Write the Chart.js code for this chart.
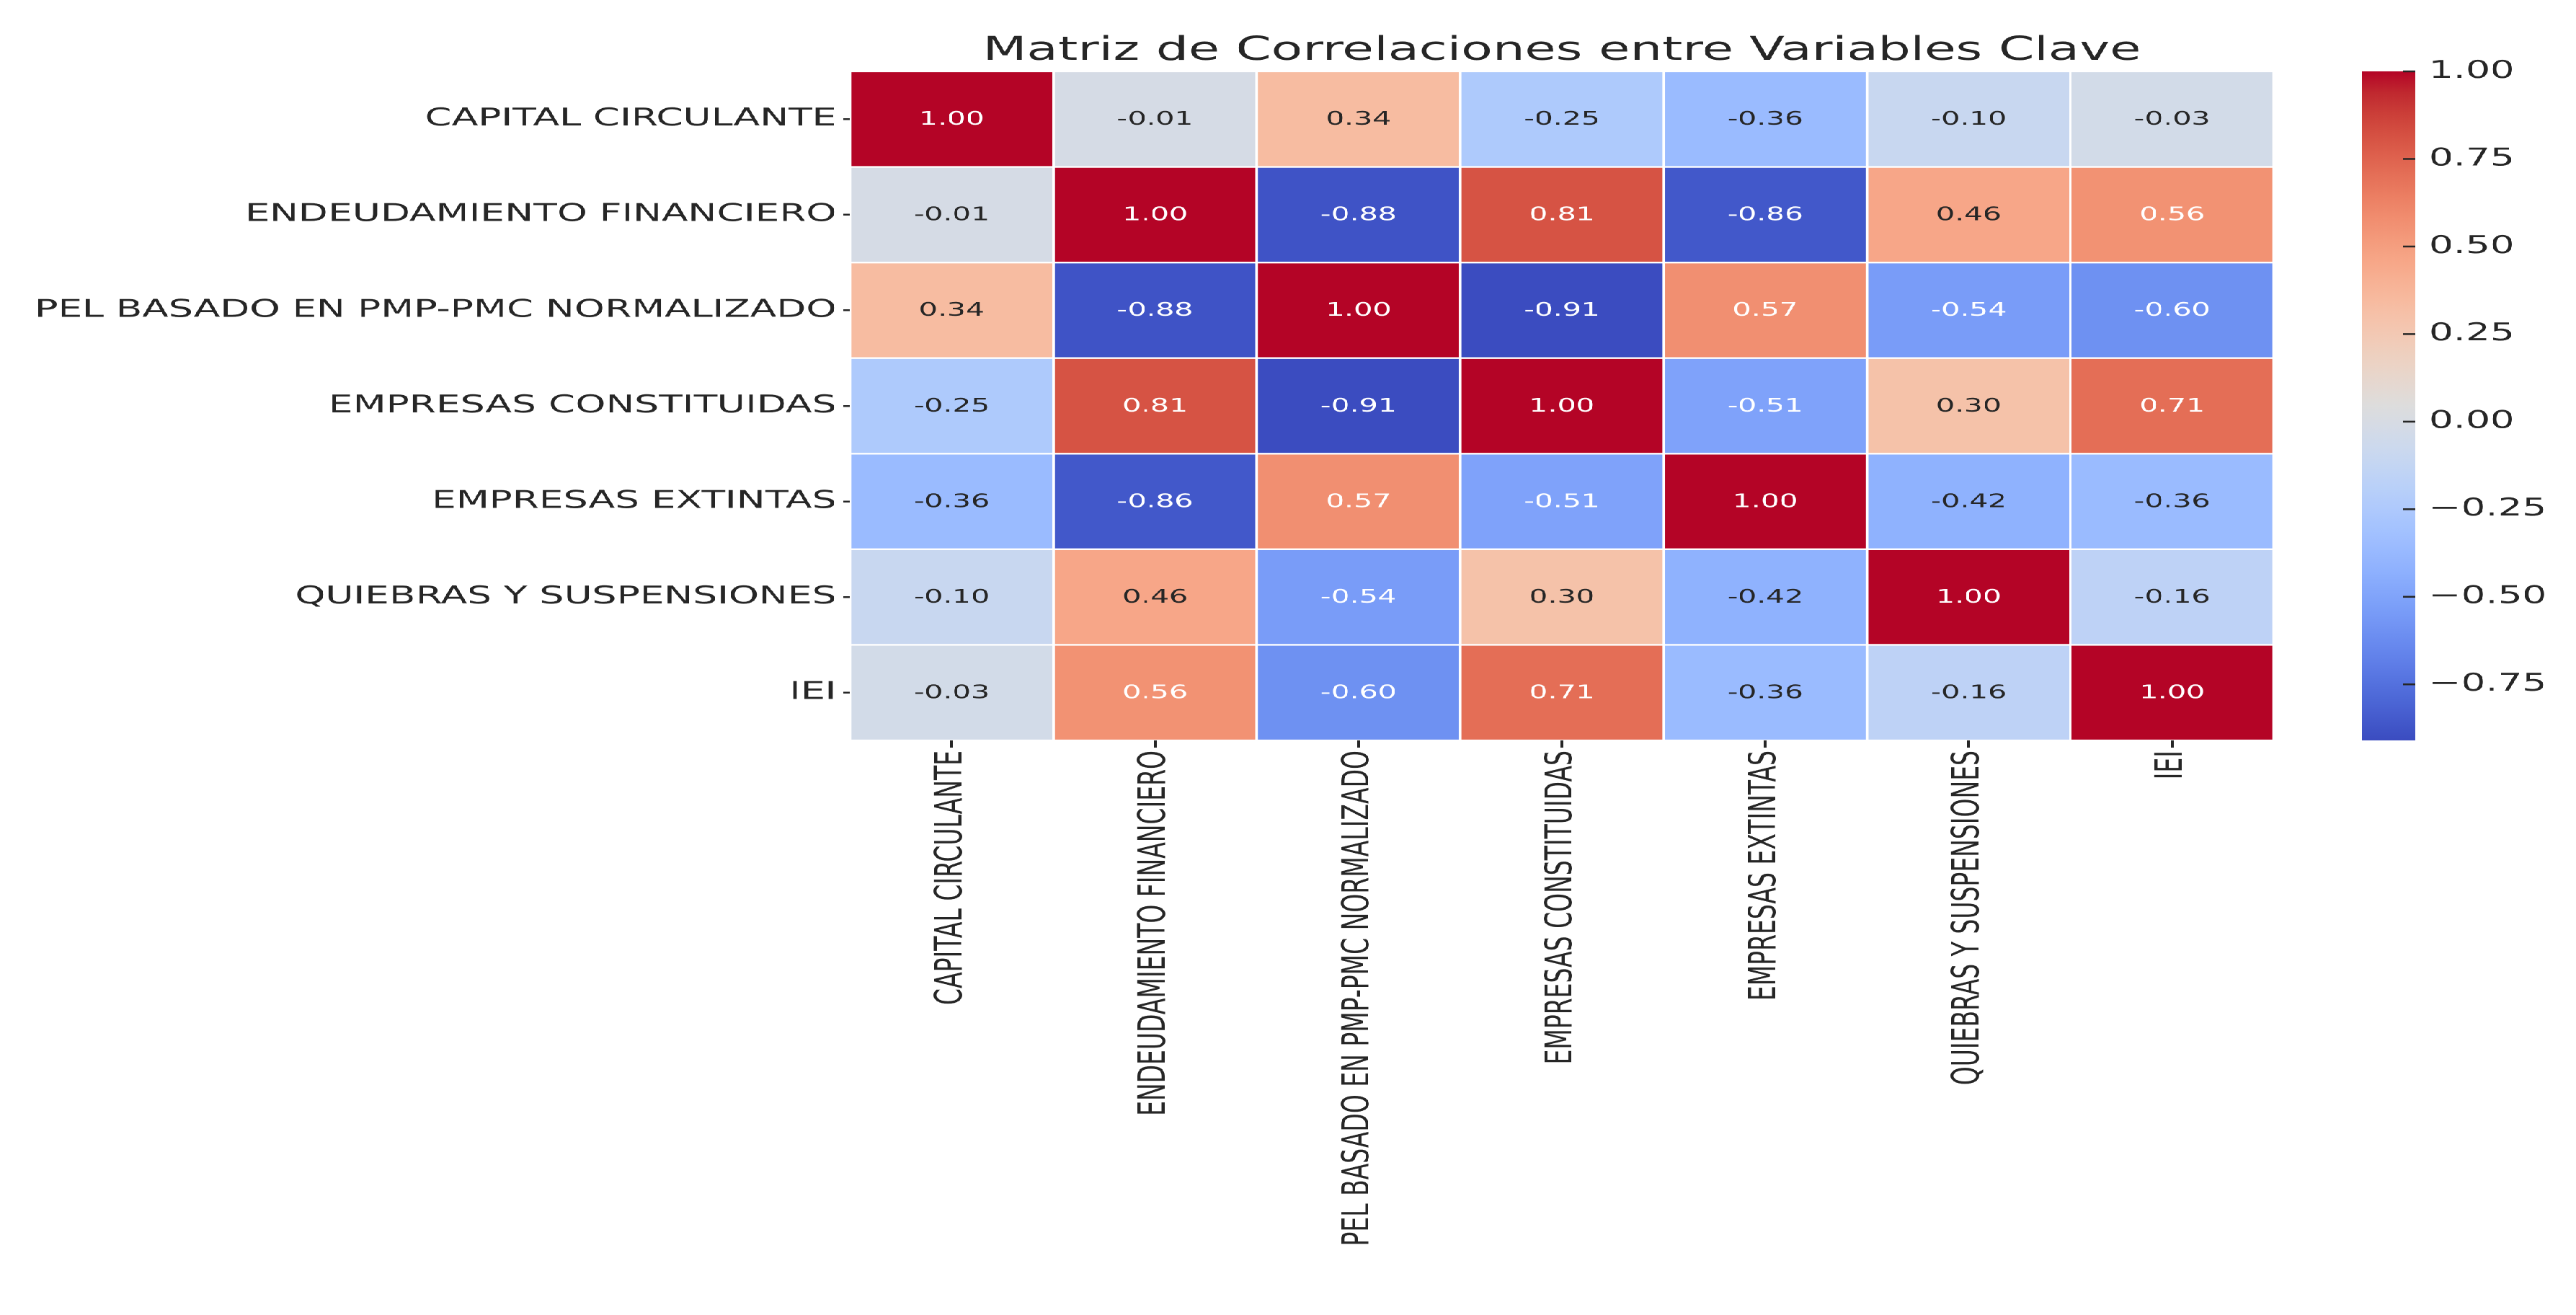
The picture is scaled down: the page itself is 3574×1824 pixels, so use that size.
<!DOCTYPE html>
<html>
<head>
<meta charset="utf-8">
<title>Matriz de Correlaciones</title>
<script src="https://cdn.jsdelivr.net/npm/chart.js@4.4.1/dist/chart.umd.min.js"></script>
<style>
html, body { margin: 0; padding: 0; background: #fff; overflow: hidden; }
/* the reference figure is stretched sideways, so draw narrow and scale x */
#stage { position: absolute; left: 0; top: 0; width: 2276px; height: 1824px; transform: scaleX(1.5703); transform-origin: 0 0; }
#heatBox { position: absolute; left: 0; top: 0; width: 2276px; height: 1824px; }
#barBox { position: absolute; left: 2087px; top: 0; width: 189px; height: 1824px; }
</style>
</head>
<body>
<div id="stage">
    <div id="heatBox"><canvas id="heatChart"></canvas></div>
    <div id="barBox"><canvas id="cbarChart"></canvas></div>
</div>
<script>
const chartTitle = 'Matriz de Correlaciones entre Variables Clave';
const variables = [
    'CAPITAL CIRCULANTE',
    'ENDEUDAMIENTO FINANCIERO',
    'PEL BASADO EN PMP-PMC NORMALIZADO',
    'EMPRESAS CONSTITUIDAS',
    'EMPRESAS EXTINTAS',
    'QUIEBRAS Y SUSPENSIONES',
    'IEI'
];
const capitalCirculante = [1.00, -0.01, 0.34, -0.25, -0.36, -0.10, -0.03];
const endeudamiento = [-0.01, 1.00, -0.88, 0.81, -0.86, 0.46, 0.56];
const pelBasado = [0.34, -0.88, 1.00, -0.91, 0.57, -0.54, -0.60];
const empresasConstituidas = [-0.25, 0.81, -0.91, 1.00, -0.51, 0.30, 0.71];
const empresasExtintas = [-0.36, -0.86, 0.57, -0.51, 1.00, -0.42, -0.36];
const quiebras = [-0.10, 0.46, -0.54, 0.30, -0.42, 1.00, -0.16];
const iei = [-0.03, 0.56, -0.60, 0.71, -0.36, -0.16, 1.00];
const corrRows = [capitalCirculante, endeudamiento, pelBasado, empresasConstituidas, empresasExtintas, quiebras, iei];

const cbarMin = -0.91;
const cbarMax = 1.00;
const cbarTicks = [-0.75, -0.50, -0.25, 0.00, 0.25, 0.50, 0.75, 1.00];

const FONT = '"DejaVu Sans", sans-serif';
const DARK = '#262626';

// matplotlib coolwarm, 33 samples
const cwRed = [0.2298, 0.2662, 0.3039, 0.3428, 0.3830, 0.4244, 0.4667, 0.5096, 0.5530, 0.5963, 0.6392, 0.6813, 0.7222, 0.7615, 0.7987, 0.8335, 0.8654, 0.8978, 0.9241, 0.9445, 0.9589, 0.9673, 0.9700, 0.9668, 0.9580, 0.9437, 0.9239, 0.8990, 0.8692, 0.8346, 0.7956, 0.7525, 0.7057];
const cwGreen = [0.2987, 0.3531, 0.4065, 0.4588, 0.5094, 0.5581, 0.6046, 0.6483, 0.6889, 0.7261, 0.7596, 0.7890, 0.8140, 0.8343, 0.8498, 0.8602, 0.8654, 0.8489, 0.8274, 0.8009, 0.7698, 0.7341, 0.6943, 0.6504, 0.6028, 0.5518, 0.4973, 0.4396, 0.3783, 0.3129, 0.2413, 0.1572, 0.0156];
const cwBlue = [0.7537, 0.8015, 0.8450, 0.8837, 0.9174, 0.9456, 0.9682, 0.9848, 0.9954, 0.9998, 0.9982, 0.9904, 0.9766, 0.9569, 0.9317, 0.9011, 0.8654, 0.8209, 0.7745, 0.7267, 0.6780, 0.6288, 0.5794, 0.5303, 0.4818, 0.4342, 0.3880, 0.3432, 0.3003, 0.2593, 0.2205, 0.1841, 0.1502];

function coolwarm(t) {
    t = Math.min(1, Math.max(0, t));
    var p = t * 32;
    var i = Math.min(31, Math.floor(p));
    var f = p - i;
    var mix = function(a) { return a[i] + (a[i + 1] - a[i]) * f; };
    return [mix(cwRed), mix(cwGreen), mix(cwBlue)];
}

function toCss(rgb) {
    return 'rgb(' + rgb.map(function(c) { return Math.round(c * 255); }).join(',') + ')';
}

function norm(v) {
    return (v - cbarMin) / (cbarMax - cbarMin);
}

function colorFor(v) {
    return toCss(coolwarm(norm(v)));
}

// same rule seaborn uses to pick the annotation colour
function textColorFor(v) {
    var lin = coolwarm(norm(v)).map(function(c) {
        return c <= 0.03928 ? c / 12.92 : Math.pow((c + 0.055) / 1.055, 2.4);
    });
    var lum = 0.2126 * lin[0] + 0.7152 * lin[1] + 0.0722 * lin[2];
    return lum > 0.408 ? DARK : '#ffffff';
}

const datasets = variables.map(function(name, j) {
    return {
        label: name,
        data: corrRows.map(function() { return [j, j + 1]; }),
        backgroundColor: corrRows.map(function(row) { return colorFor(row[j]); }),
        borderColor: '#ffffff',
        borderWidth: 1.5,
        borderSkipped: false,
        barPercentage: 1,
        categoryPercentage: 1,
        grouped: false
    };
});

const cellText = {
    id: 'cellText',
    afterDatasetsDraw: function(chart) {
        var ctx = chart.ctx;
        ctx.save();
        ctx.font = '26px ' + FONT;
        ctx.textAlign = 'center';
        ctx.textBaseline = 'middle';
        chart.data.datasets.forEach(function(ds, j) {
            chart.getDatasetMeta(j).data.forEach(function(bar, i) {
                var v = corrRows[i][j];
                var pt = bar.getCenterPoint();
                ctx.fillStyle = textColorFor(v);
                ctx.fillText(v.toFixed(2), pt.x, pt.y + 1);
            });
        });
        ctx.restore();
    }
};

const heatTitle = {
    id: 'heatTitle',
    afterDraw: function(chart) {
        var ctx = chart.ctx;
        var area = chart.chartArea;
        ctx.save();
        ctx.font = '45px ' + FONT;
        ctx.fillStyle = DARK;
        ctx.textAlign = 'center';
        ctx.textBaseline = 'alphabetic';
        ctx.fillText(chartTitle, (area.left + area.right) / 2, 83);
        ctx.restore();
    }
};

const heatChart = new Chart(document.getElementById('heatChart'), {
    type: 'bar',
    data: {
        labels: variables,
        datasets: datasets
    },
    options: {
        indexAxis: 'y',
        responsive: true,
        maintainAspectRatio: false,
        animation: false,
        devicePixelRatio: 2,
        layout: { padding: { left: 0, top: 99, right: 2276 - 2009, bottom: 0 } },
        plugins: {
            legend: { display: false },
            tooltip: { enabled: false }
        },
        scales: {
            x: {
                type: 'linear',
                position: 'bottom',
                min: 0,
                max: variables.length,
                afterFit: function(scale) { scale.height = 1824 - 1027; },
                afterBuildTicks: function(scale) {
                    scale.ticks = variables.map(function(_, j) { return { value: j + 0.5 }; });
                },
                ticks: {
                    autoSkip: false,
                    minRotation: 90,
                    maxRotation: 90,
                    padding: 4,
                    color: DARK,
                    font: { family: FONT, size: 33 },
                    callback: function(value) { return variables[Math.floor(value)]; }
                },
                grid: { drawOnChartArea: false, drawTicks: true, tickLength: 10, lineWidth: 2.5, color: DARK },
                border: { display: false }
            },
            y: {
                type: 'category',
                afterFit: function(scale) { scale.width = 751; },
                ticks: {
                    autoSkip: false,
                    padding: 6,
                    color: DARK,
                    font: { family: FONT, size: 34 }
                },
                grid: { offset: false, drawOnChartArea: false, drawTicks: true, tickLength: 6, lineWidth: 2.5, color: DARK },
                border: { display: false }
            }
        }
    },
    plugins: [cellText, heatTitle]
});

// colour bar: one floating bar over the full value range, filled with the map
const cbarMarks = {
    id: 'cbarMarks',
    afterDatasetsDraw: function(chart) {
        var ctx = chart.ctx;
        var area = chart.chartArea;
        var y = chart.scales.y;
        ctx.save();
        ctx.strokeStyle = DARK;
        ctx.lineWidth = 2.5;
        cbarTicks.forEach(function(v) {
            var py = y.getPixelForValue(v);
            ctx.beginPath();
            ctx.moveTo(area.right - 11, py);
            ctx.lineTo(area.right, py);
            ctx.stroke();
        });
        ctx.restore();
    }
};

const cbarChart = new Chart(document.getElementById('cbarChart'), {
    type: 'bar',
    data: {
        labels: ['r'],
        datasets: [{
            data: [[cbarMin, cbarMax]],
            barPercentage: 1,
            categoryPercentage: 1,
            borderWidth: 0,
            backgroundColor: function(c) {
                var area = c.chart.chartArea;
                if (!area) return '#dddddd';
                var g = c.chart.ctx.createLinearGradient(0, area.bottom, 0, area.top);
                for (var s = 0; s <= 64; s++) {
                    g.addColorStop(s / 64, toCss(coolwarm(s / 64)));
                }
                return g;
            }
        }]
    },
    options: {
        responsive: true,
        maintainAspectRatio: false,
        animation: false,
        devicePixelRatio: 2,
        layout: { padding: { left: 0, top: 99, right: 0, bottom: 1824 - 1027 } },
        plugins: {
            legend: { display: false },
            tooltip: { enabled: false }
        },
        scales: {
            x: { display: false },
            y: {
                position: 'right',
                min: cbarMin,
                max: cbarMax,
                afterFit: function(scale) { scale.width = 189 - 47; },
                afterBuildTicks: function(scale) {
                    scale.ticks = cbarTicks.map(function(v) { return { value: v }; });
                },
                ticks: {
                    padding: 12,
                    color: DARK,
                    font: { family: FONT, size: 34 },
                    callback: function(v) { return (v < 0 ? '\u2212' : '') + Math.abs(v).toFixed(2); }
                },
                grid: { display: false, drawTicks: false },
                border: { display: false }
            }
        }
    },
    plugins: [cbarMarks]
});
</script>
</body>
</html>
